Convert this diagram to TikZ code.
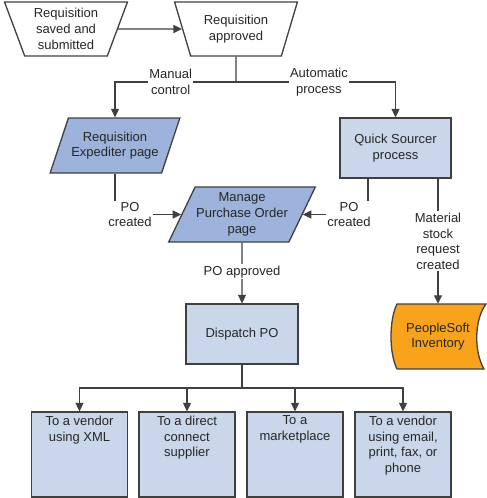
\documentclass[tikz,border=0pt]{standalone}
\usepackage{fontspec}
\setmainfont{Liberation Sans}
\usetikzlibrary{shapes.geometric, arrows.meta, positioning, calc}

\definecolor{lineGray}{HTML}{404040}
\definecolor{pageBlue}{HTML}{9DB3DB}
\definecolor{procBlue}{HTML}{CAD7EB}
\definecolor{invOrange}{HTML}{F8A31B}

\newcommand{\destText}[1]{\parbox[t][77pt][t]{94pt}{\centering #1}}

\begin{document}
\begin{tikzpicture}[x=1pt, y=-1pt,
  every node/.style={font=\fontsize{13}{15.7}\selectfont, text=black!85},
  base/.style={draw=lineGray, line width=1.3pt},
  trap/.style={base, trapezium, trapezium stretches=true, shape border rotate=180,
    trapezium left angle=70, trapezium right angle=70,
    minimum width=123pt, minimum height=54pt, align=center},
  page/.style={base, fill=pageBlue, trapezium, trapezium stretches=true,
    trapezium left angle=63, trapezium right angle=117,
    minimum height=55pt, align=center, inner xsep=1pt},
  proc/.style={base, fill=procBlue, rectangle, align=center},
  dest/.style={proc, minimum width=96pt, minimum height=85pt, inner sep=0pt},
  lbl/.style={fill=white, inner sep=1.5pt, align=center},
  flow/.style={lineGray, line width=1.3pt},
  arr/.style={flow, -{Triangle[length=8.5pt, width=8pt]}}
]
\useasboundingbox (0,0) rectangle (487,498);

% Requisition steps
\node[trap] (saved) at (66,29) {Requisition\\saved and\\submitted};
\node[trap] (approved) at (236,29) {Requisition\\approved};
\node[page, minimum width=130pt] (expediter) at (115,145.5) {Requisition\\Expediter page};
\node[proc, minimum width=111pt, minimum height=60pt] (sourcer) at (395.5,148) {Quick Sourcer\\process};
\node[page, minimum width=135pt, trapezium left angle=62, trapezium right angle=118]
  (managepo) at (242,214.5) {Manage\\Purchase Order\\page};
\node[proc, minimum width=112pt, minimum height=60pt] (dispatch) at (242,334) {Dispatch PO};

% Stored data
\draw[base, fill=invOrange] (397,304) -- (486,304)
  .. controls (474,320) and (474,352) .. (484,369) -- (397,369)
  .. controls (389,353) and (389,320) .. (397,304) -- cycle;
\node[minimum width=86pt, minimum height=65pt, align=center] (inventory) at (438,336.5) {PeopleSoft\\Inventory};

% Dispatch targets
\foreach \name/\cx/\txt in {xml/79.5/{To a vendor\\using XML},
    direct/187/{To a direct\\connect\\supplier},
    market/295/{To a\\marketplace},
    email/403/{To a vendor\\using email,\\print, fax, or\\phone}}
  \node[dest] (\name) at (\cx,454.5) {\destText{\txt}};

% Connectors
\coordinate (split) at (236,82);
\coordinate (fan) at (242,388);
\draw[arr] (saved) -- (approved);
\draw[flow] (approved.south) -- (split);
\draw[arr] (split) -| node[lbl, pos=0.27] {Manual\\control} (expediter.north);
\draw[arr] (split) -| node[lbl, pos=0.26] {Automatic\\process} (sourcer.north);
\draw[arr] (expediter.south) |- node[lbl, pos=0.5, xshift=15pt] {PO\\created} (managepo.west);
\draw[arr] ([xshift=-27.5pt]sourcer.south) |- node[lbl, pos=0.5, xshift=-19pt] {PO\\created} (managepo.east);
\draw[arr] ([xshift=42.5pt]sourcer.south) -- node[lbl, pos=0.5] {Material\\stock\\request\\created} (inventory.north);
\draw[arr] (managepo.south) -- node[lbl, pos=0.48] {PO approved} (dispatch.north);
\draw[flow] (dispatch.south) -- (fan);
\foreach \name in {xml,direct,market,email}
  \draw[arr] (fan) -| (\name.north);
\end{tikzpicture}
\end{document}
